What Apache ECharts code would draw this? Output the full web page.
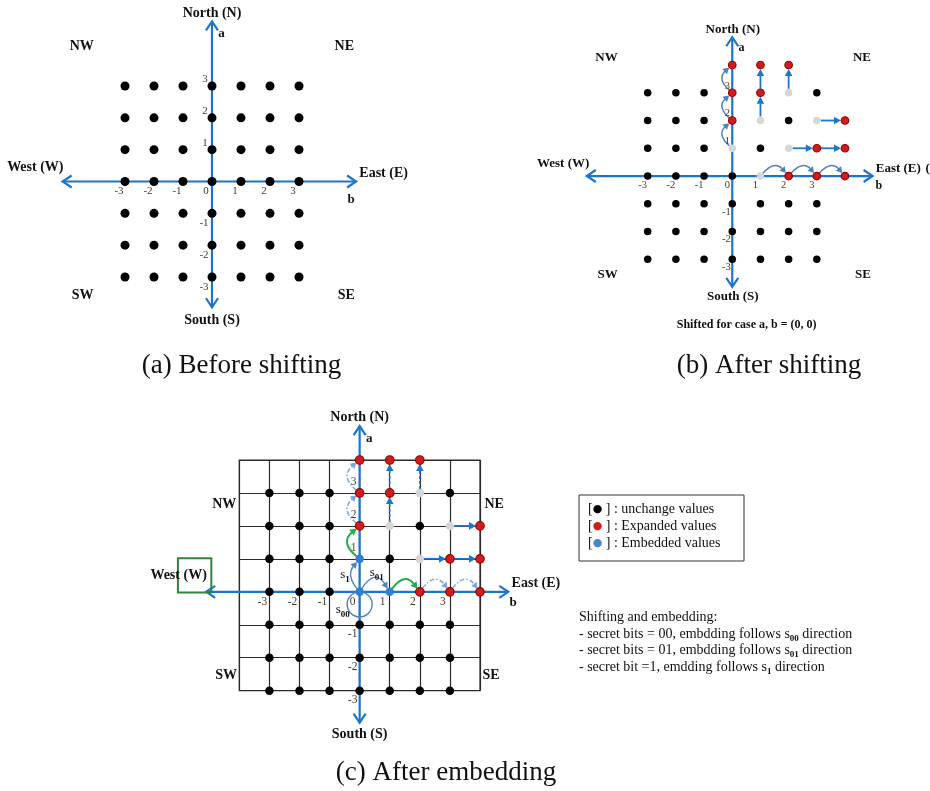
<!DOCTYPE html>
<html>
<head>
<meta charset="utf-8">
<title>Shifting and embedding</title>
<script src="https://cdn.jsdelivr.net/npm/echarts@6.0.0/dist/echarts.min.js"></script>
<style>
  html, body { margin: 0; padding: 0; background: #fff; }
  #chart { width: 930px; height: 791px; }
</style>
</head>
<body>
<div id="chart"></div>
<script>
// ---------- values, as (b, a) pairs ----------
const tickB = [-3, -2, -1, 0, 1, 2, 3];
const tickAUp = [3, 2, 1];
const tickADown = [-1, -2, -3];

// (a) every value before shifting
const beforeValues = [
  [-3, 3], [-2, 3], [-1, 3], [0, 3], [1, 3], [2, 3], [3, 3],
  [-3, 2], [-2, 2], [-1, 2], [0, 2], [1, 2], [2, 2], [3, 2],
  [-3, 1], [-2, 1], [-1, 1], [0, 1], [1, 1], [2, 1], [3, 1],
  [-3, 0], [-2, 0], [-1, 0], [0, 0], [1, 0], [2, 0], [3, 0],
  [-3, -1], [-2, -1], [-1, -1], [0, -1], [1, -1], [2, -1], [3, -1],
  [-3, -2], [-2, -2], [-1, -2], [0, -2], [1, -2], [2, -2], [3, -2],
  [-3, -3], [-2, -3], [-1, -3], [0, -3], [1, -3], [2, -3], [3, -3]
];

// values that keep their place in (b) and (c)
const unchangedValues = [
  [-3, 3], [-2, 3], [-1, 3], [3, 3],
  [-3, 2], [-2, 2], [-1, 2], [2, 2],
  [-3, 1], [-2, 1], [-1, 1], [1, 1],
  [-3, 0], [-2, 0], [-1, 0],
  [-3, -1], [-2, -1], [-1, -1], [0, -1], [1, -1], [2, -1], [3, -1],
  [-3, -2], [-2, -2], [-1, -2], [0, -2], [1, -2], [2, -2], [3, -2],
  [-3, -3], [-2, -3], [-1, -3], [0, -3], [1, -3], [2, -3], [3, -3]
];
const originValue = [[0, 0]];
const vacatedShift = [[0, 1], [1, 0], [1, 2], [2, 1], [2, 3], [3, 2]];
const expandedValues = [
  [0, 2], [0, 3], [0, 4], [1, 3], [1, 4], [2, 4],
  [3, 1], [4, 1], [4, 2], [2, 0], [3, 0], [4, 0]
];
const embeddedValues = [[0, 0], [0, 1], [1, 0]];
const vacatedEmbed = [[1, 2], [2, 1], [2, 3], [3, 2]];

// moves as [bFrom, aFrom, bTo, aTo]
const shiftCurves = [[0, 1, 0, 2], [0, 2, 0, 3], [0, 3, 0, 4], [1, 0, 2, 0], [2, 0, 3, 0], [3, 0, 4, 0]];
const shiftMoves = [[1, 2, 1, 3], [1, 3, 1, 4], [2, 3, 2, 4], [3, 2, 4, 2], [2, 1, 3, 1], [3, 1, 4, 1]];
const embedShiftCurves = [[0, 2, 0, 3], [0, 3, 0, 4], [2, 0, 3, 0], [3, 0, 4, 0]];
const embedGreenCurves = [[0, 1, 0, 2], [1, 0, 2, 0]];
const embedS1 = [[0, 0, 0, 1]];
const embedS01 = [[0, 0, 1, 0]];
const embedS00 = [[0, 0]];
const embedVertMoves = [[1, 2, 1, 3], [1, 3, 1, 4], [2, 3, 2, 4]];
const embedHorizMoves = [[3, 2, 4, 2], [2, 1, 3, 1], [3, 1, 4, 1]];

// ---------- text ----------
const compassText = ['North (N)', 'South (S)', 'West (W)', 'East (E)', 'NW', 'NE', 'SW', 'SE', 'a', 'b'];
const captions = ['(a) Before shifting', '(b) After shifting', '(c) After embedding'];
const shiftCase = 'Shifted for case a, b = (0, 0)';
const directionText = ['{m|s}{d|1}', '{m|s}{d|01}', '{m|s}{d|00}'];
const legendText = [
  '[{k|●} ] : unchange values',
  '[{r|●} ] : Expanded values',
  '[{e|●} ] : Embedded values'
];
const noteText = [
  'Shifting and embedding:',
  '- secret bits = 00, embdding follows {m|s}{d|00} direction',
  '- secret bits = 01, embdding follows {m|s}{d|01} direction',
  '- secret bit =1, emdding follows {m|s}{d|1} direction'
];

// ---------- look ----------
const FONT = "'Liberation Serif', 'Times New Roman', serif";
const AXIS_BLUE = '#1c76c8';
const CURVE_BLUE = '#4f81bd';
const DASH_BLUE = '#7fa6d9';
const GREEN = '#1fae4b';
const RED = '#d01c1c';
const GREY = '#d6d6d6';
const EMBED_BLUE = '#2f80d0';
const TICK_COLOR = '#4a3b28';

const panels = [
  { grid: { left: 125, top: 86, width: 174, height: 191 }, b: [-3, 3], a: [-3, 3],
    ext: [-5.15, 4.97, 5.03, -3.95], dot: 9, tickSize: 11, labelSize: 14,
    tickX: [-6, 10], tickUp: [-7, -7], tickDown: [-8, 10],
    compass: [[0, 5.28], [0, -4.37], [-5.12, 0.44], [5.08, 0.25], [-4.49, 4.24], [4.56, 4.24],
              [-4.46, -3.58], [4.63, -3.58], [0.33, 4.65], [4.8, -0.57]] },
  { grid: { left: 647.7, top: 65, width: 197.3, height: 194.3 }, b: [-3, 4], a: [-3, 4],
    ext: [-5.16, 4.98, 5.0, -3.99], dot: 7.5, tickSize: 10.5, labelSize: 13,
    tickX: [-5, 9], tickUp: [-5, -7], tickDown: [-6, 8],
    compass: [[0.02, 5.26], [0.02, -4.35], [-5.07, 0.43], [5.09, 0.25], [-4.46, 4.28], [4.6, 4.28],
              [-4.42, -3.57], [4.64, -3.57], [0.33, 4.62], [5.2, -0.35]] },
  { grid: { left: 239.3, top: 460, width: 240.7, height: 230.7 }, b: [-4, 4], a: [-3, 4],
    ext: [-5.1, 4.94, 5.03, -3.97], dot: 8.5, tickSize: 11.5, labelSize: 14,
    tickX: [-7, 10], tickUp: [-6, -11], tickDown: [-7, 9],
    compass: [[0, 5.29], [0, -4.32], [-5.08, 0.51], [5.05, 0.26], [-4.5, 2.65], [4.47, 2.65],
              [-4.44, -2.55], [4.37, -2.55], [0.32, 4.64], [5.1, -0.33]] }
];

// ---------- drawing helpers ----------
function unit(dx, dy) { const l = Math.hypot(dx, dy) || 1; return [dx / l, dy / l]; }

function headPolygon(tip, t, len, half, color) {
  const bx = tip[0] - t[0] * len, by = tip[1] - t[1] * len;
  return { type: 'polygon',
    shape: { points: [tip, [bx - t[1] * half, by + t[0] * half], [bx + t[1] * half, by - t[0] * half]] },
    style: { fill: color } };
}

function chevron(tip, t, len, half, color, w) {
  const bx = tip[0] - t[0] * len, by = tip[1] - t[1] * len;
  return { type: 'polyline',
    shape: { points: [[bx - t[1] * half, by + t[0] * half], tip, [bx + t[1] * half, by - t[0] * half]] },
    style: { stroke: color, lineWidth: w, fill: null } };
}

function axesSeries(gi, ext) {
  return {
    type: 'custom', coordinateSystem: 'cartesian2d', xAxisIndex: gi, yAxisIndex: gi,
    silent: true, z: 3, clip: false,
    data: [[ext[0], 0, ext[1], 0], [0, ext[2], 0, ext[3]]],
    renderItem(params, api) {
      const p1 = api.coord([api.value(0), api.value(1)]);
      const p2 = api.coord([api.value(2), api.value(3)]);
      const t = unit(p2[0] - p1[0], p2[1] - p1[1]);
      return { type: 'group', children: [
        { type: 'line', shape: { x1: p1[0], y1: p1[1], x2: p2[0], y2: p2[1] },
          style: { stroke: AXIS_BLUE, lineWidth: 2.2 } },
        chevron(p2, t, 9, 6, AXIS_BLUE, 2.2),
        chevron(p1, [-t[0], -t[1]], 9, 6, AXIS_BLUE, 2.2)
      ] };
    }
  };
}

function straightSeries(gi, moves, o) {
  return {
    type: 'custom', coordinateSystem: 'cartesian2d', xAxisIndex: gi, yAxisIndex: gi,
    silent: true, z: 4, clip: false, data: moves,
    renderItem(params, api) {
      const p1 = api.coord([api.value(0), api.value(1)]);
      const p2 = api.coord([api.value(2), api.value(3)]);
      const t = unit(p2[0] - p1[0], p2[1] - p1[1]);
      const s = [p1[0] + t[0] * o.gapStart, p1[1] + t[1] * o.gapStart];
      const tip = [p2[0] - t[0] * o.gapEnd, p2[1] - t[1] * o.gapEnd];
      const e = [tip[0] - t[0] * o.head * 0.8, tip[1] - t[1] * o.head * 0.8];
      return { type: 'group', children: [
        { type: 'line', shape: { x1: s[0], y1: s[1], x2: e[0], y2: e[1] },
          style: { stroke: o.color, lineWidth: o.width, lineDash: o.dash || null } },
        headPolygon(tip, t, o.head, o.half, o.color)
      ] };
    }
  };
}

function curveSeries(gi, moves, o) {
  return {
    type: 'custom', coordinateSystem: 'cartesian2d', xAxisIndex: gi, yAxisIndex: gi,
    silent: true, z: 4, clip: false, data: moves,
    renderItem(params, api) {
      const p1 = api.coord([api.value(0), api.value(1)]);
      const p2 = api.coord([api.value(2), api.value(3)]);
      const u = unit(p2[0] - p1[0], p2[1] - p1[1]);
      const n = [u[1], -u[0]];
      const c = [(p1[0] + p2[0]) / 2 + n[0] * o.bulge * 2, (p1[1] + p2[1]) / 2 + n[1] * o.bulge * 2];
      const ts = unit(c[0] - p1[0], c[1] - p1[1]);
      const s = [p1[0] + ts[0] * o.gapStart, p1[1] + ts[1] * o.gapStart];
      const te = unit(p2[0] - c[0], p2[1] - c[1]);
      const tip = [p2[0] - te[0] * o.gapEnd, p2[1] - te[1] * o.gapEnd];
      const e = [tip[0] - te[0] * o.head * 0.8, tip[1] - te[1] * o.head * 0.8];
      return { type: 'group', children: [
        { type: 'bezierCurve', shape: { x1: s[0], y1: s[1], x2: e[0], y2: e[1], cpx1: c[0], cpy1: c[1] },
          style: { stroke: o.color, lineWidth: o.width, fill: null, lineDash: o.dash || null } },
        headPolygon(tip, te, o.head, o.half, o.color)
      ] };
    }
  };
}

function loopSeries(gi, points, o) {
  return {
    type: 'custom', coordinateSystem: 'cartesian2d', xAxisIndex: gi, yAxisIndex: gi,
    silent: true, z: 4, clip: false, data: points,
    renderItem(params, api) {
      const p = api.coord([api.value(0), api.value(1)]);
      return { type: 'circle', shape: { cx: p[0], cy: p[1] + o.r, r: o.r },
        style: { stroke: o.color, lineWidth: o.width, fill: null } };
    }
  };
}

function dotSeries(gi, values, size, color, border) {
  return {
    type: 'scatter', xAxisIndex: gi, yAxisIndex: gi, silent: true, z: 6,
    symbol: 'circle', symbolSize: size, data: values,
    itemStyle: { color: color, borderColor: border || color, borderWidth: border ? 1.2 : 0, opacity: 1 }
  };
}

function textSeries(gi, points, texts, styleOf) {
  return {
    type: 'custom', coordinateSystem: 'cartesian2d', xAxisIndex: gi, yAxisIndex: gi,
    silent: true, z: 8, clip: false, data: points,
    renderItem(params, api) {
      const p = api.coord([api.value(0), api.value(1)]);
      const o = styleOf(params.dataIndex);
      return { type: 'text', x: p[0] + (o.dx || 0), y: p[1] + (o.dy || 0),
        style: { text: texts[params.dataIndex], fontFamily: FONT, fontSize: o.size,
          fontWeight: o.weight || 'normal', fill: o.color || '#000',
          align: o.align || 'center', textAlign: o.align || 'center',
          verticalAlign: 'middle', textVerticalAlign: 'middle', rich: o.rich } };
    }
  };
}

function boxSeries(gi, rects, o) {
  return {
    type: 'custom', coordinateSystem: 'cartesian2d', xAxisIndex: gi, yAxisIndex: gi,
    silent: true, z: 7, clip: false, data: rects,
    renderItem(params, api) {
      const p1 = api.coord([api.value(0), api.value(1)]);
      const p2 = api.coord([api.value(2), api.value(3)]);
      return { type: 'rect',
        shape: { x: Math.min(p1[0], p2[0]), y: Math.min(p1[1], p2[1]),
                 width: Math.abs(p2[0] - p1[0]), height: Math.abs(p2[1] - p1[1]) },
        style: { stroke: o.color, lineWidth: o.width, fill: null } };
    }
  };
}

// tick labels and compass labels of one panel
function panelLabels(gi) {
  const P = panels[gi];
  const tickPts = [], tickTxt = [], tickKind = [];
  tickB.forEach(v => { tickPts.push([v, 0]); tickTxt.push(String(v)); tickKind.push('x'); });
  tickAUp.forEach(v => { tickPts.push([0, v]); tickTxt.push(String(v)); tickKind.push('up'); });
  tickADown.forEach(v => { tickPts.push([0, v]); tickTxt.push(String(v)); tickKind.push('down'); });
  const ticks = textSeries(gi, tickPts, tickTxt, i => {
    const off = tickKind[i] === 'x' ? P.tickX : tickKind[i] === 'up' ? P.tickUp : P.tickDown;
    return { dx: off[0], dy: off[1], size: P.tickSize, color: TICK_COLOR };
  });
  const names = textSeries(gi, P.compass, compassText, i => ({
    size: i >= 8 ? P.labelSize - 1 : P.labelSize, weight: 'bold', color: '#111',
    align: i === 2 ? 'right' : i === 3 ? 'left' : 'center'
  }));
  return [ticks, names];
}

// ---------- axes ----------
const xAxis = panels.map((P, i) => ({
  gridIndex: i, type: 'value', min: P.b[0], max: P.b[1], interval: 1,
  show: i === 2,
  axisLine: { show: false }, axisTick: { show: false }, axisLabel: { show: false },
  splitLine: { show: i === 2, lineStyle: { color: '#2a2a2a', width: 1.2 } }
}));
const yAxis = panels.map((P, i) => ({
  gridIndex: i, type: 'value', min: P.a[0], max: P.a[1], interval: 1,
  show: i === 2,
  axisLine: { show: false }, axisTick: { show: false }, axisLabel: { show: false },
  splitLine: { show: i === 2, lineStyle: { color: '#2a2a2a', width: 1.2 } }
}));
const grid = panels.map((P, i) => Object.assign({
  containLabel: false, outerBoundsMode: 'none',
  show: i === 2, borderColor: '#2a2a2a', borderWidth: 1.2, backgroundColor: 'transparent'
}, P.grid));

// ---------- series ----------
const series = [];

// (a) before shifting
series.push(axesSeries(0, panels[0].ext));
series.push(dotSeries(0, beforeValues, panels[0].dot, '#000'));
series.push(...panelLabels(0));

// (b) after shifting
series.push(axesSeries(1, panels[1].ext));
series.push(curveSeries(1, shiftCurves, { color: CURVE_BLUE, width: 1.5, bulge: 8, gapStart: 3, gapEnd: 4, head: 6, half: 3.5 }));
series.push(straightSeries(1, shiftMoves, { color: AXIS_BLUE, width: 1.8, gapStart: 4, gapEnd: 4, head: 7, half: 3.8 }));
series.push(dotSeries(1, unchangedValues.concat(originValue), panels[1].dot, '#000'));
series.push(dotSeries(1, vacatedShift, panels[1].dot, GREY));
series.push(dotSeries(1, expandedValues, panels[1].dot, RED, '#9a0000'));
series.push(...panelLabels(1));
series.push(textSeries(1, [[0.51, -5.37]], [shiftCase], () => ({ size: 12, weight: 'bold', color: '#111' })));
series.push(textSeries(1, [[6.86, 0.25]], ['('], () => ({ size: 13, weight: 'bold', color: '#111', align: 'left' })));

// (c) after embedding
series.push(axesSeries(2, panels[2].ext));
series.push(curveSeries(2, embedShiftCurves, { color: DASH_BLUE, width: 1.5, bulge: 10, gapStart: 4, gapEnd: 4, head: 6, half: 3.5, dash: [5, 2, 1.5, 2] }));
series.push(curveSeries(2, embedGreenCurves, { color: GREEN, width: 2, bulge: 10, gapStart: 4, gapEnd: 4, head: 6.5, half: 3.8 }));
series.push(curveSeries(2, embedS1, { color: CURVE_BLUE, width: 1.4, bulge: 7, gapStart: 3, gapEnd: 4, head: 6, half: 3.5 }));
series.push(curveSeries(2, embedS01, { color: CURVE_BLUE, width: 1.4, bulge: 12, gapStart: 3, gapEnd: 4, head: 6, half: 3.5 }));
series.push(loopSeries(2, embedS00, { color: CURVE_BLUE, width: 1.4, r: 12.5 }));
series.push(straightSeries(2, embedVertMoves, { color: AXIS_BLUE, width: 1.6, gapStart: 4, gapEnd: 4, head: 7, half: 3.8, dash: [3, 2] }));
series.push(straightSeries(2, embedHorizMoves, { color: AXIS_BLUE, width: 1.8, gapStart: 4, gapEnd: 4, head: 7, half: 3.8 }));
series.push(dotSeries(2, unchangedValues, panels[2].dot, '#000'));
series.push(dotSeries(2, vacatedEmbed, panels[2].dot, GREY));
series.push(dotSeries(2, embeddedValues, panels[2].dot, EMBED_BLUE));
series.push(dotSeries(2, expandedValues, panels[2].dot, RED, '#9a0000'));
series.push(...panelLabels(2));
series.push(boxSeries(2, [[-6.04, 1.02, -4.93, -0.02]], { color: '#2e8540', width: 2 }));
const subRich = {
  m: { fontFamily: FONT, fontSize: 13, lineHeight: 18, fill: '#111', color: '#111' },
  d: { fontFamily: FONT, fontSize: 9, fontWeight: 'bold', lineHeight: 18, verticalAlign: 'bottom', fill: '#111', color: '#111' }
};
series.push(textSeries(2, [[-0.49, 0.51], [0.57, 0.58], [-0.56, -0.55]], directionText,
  () => ({ size: 13, color: '#111', rich: subRich })));

// ---------- captions, legend and notes ----------
const captionPos = [[241.5, 366], [769, 366], [446, 773]];
const graphic = captions.map((c, i) => ({
  type: 'text', x: captionPos[i][0], y: captionPos[i][1], silent: true,
  style: { text: c, fontFamily: FONT, fontSize: 27, fill: '#111',
    align: 'center', textAlign: 'center', verticalAlign: 'middle', textVerticalAlign: 'middle' }
}));
graphic.push({ type: 'rect', shape: { x: 579, y: 495, width: 165, height: 66 }, silent: true,
  style: { stroke: '#333', lineWidth: 1, fill: null } });
const dotRich = {
  k: { fontSize: 11, fill: '#000', color: '#000', fontFamily: 'DejaVu Sans' },
  r: { fontSize: 11, fill: RED, color: RED, fontFamily: 'DejaVu Sans' },
  e: { fontSize: 11, fill: '#4a86c8', color: '#4a86c8', fontFamily: 'DejaVu Sans' }
};
const legendY = [509.5, 526.5, 543];
legendText.forEach((t, i) => graphic.push({
  type: 'text', x: 588, y: legendY[i], silent: true,
  style: { text: t, fontFamily: FONT, fontSize: 14, fill: '#111', rich: dotRich,
    align: 'left', textAlign: 'left', verticalAlign: 'middle', textVerticalAlign: 'middle' }
}));
const noteRich = {
  m: { fontFamily: FONT, fontSize: 14, lineHeight: 18, fill: '#111', color: '#111' },
  d: { fontFamily: FONT, fontSize: 9, fontWeight: 'bold', lineHeight: 18, verticalAlign: 'bottom', fill: '#111', color: '#111' }
};
const noteY = [617, 634, 650, 667];
noteText.forEach((t, i) => graphic.push({
  type: 'text', x: 579, y: noteY[i], silent: true,
  style: { text: t, fontFamily: FONT, fontSize: 14, fill: '#111', rich: noteRich,
    align: 'left', textAlign: 'left', verticalAlign: 'middle', textVerticalAlign: 'middle' }
}));

const chart = echarts.init(document.getElementById('chart'), null, { renderer: 'canvas' });
chart.setOption({
  backgroundColor: '#fff',
  animation: false,
  tooltip: { show: false },
  grid, xAxis, yAxis, series, graphic
});
</script>
</body>
</html>
